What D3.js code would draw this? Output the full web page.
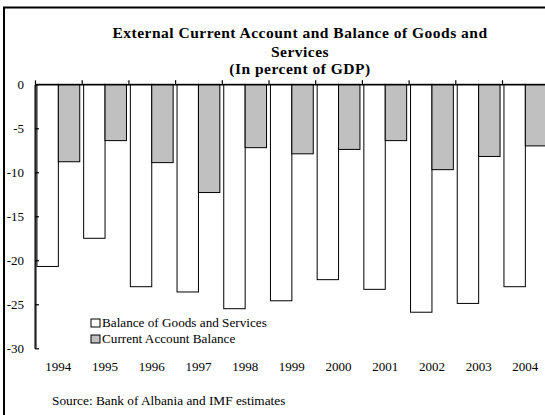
<!DOCTYPE html>
<html>
<head>
<meta charset="utf-8">
<script src="https://cdn.jsdelivr.net/npm/d3@7"></script>
<style>
  html, body { margin: 0; padding: 0; background: #fff; }
  svg { display: block; }
  text { font-family: "Liberation Serif", "Times New Roman", serif; fill: #000; }
</style>
</head>
<body>
<svg id="chart" width="545" height="415"></svg>
<script>
// Albania: external balances, percent of GDP
const years = ["1994", "1995", "1996", "1997", "1998", "1999", "2000", "2001", "2002", "2003", "2004"];
const goodsServices = [-20.7, -17.5, -23.0, -23.6, -25.5, -24.6, -22.2, -23.3, -25.9, -24.9, -23.0];
const currentAccount = [-8.8, -6.4, -8.9, -12.3, -7.2, -7.9, -7.4, -6.4, -9.7, -8.2, -7.0];
const yTicks = [0, -5, -10, -15, -20, -25, -30];
const seriesNames = ["Balance of Goods and Services", "Current Account Balance"];
const seriesFill = ["#ffffff", "#c0c0c0"];
const titleLines = ["External Current Account and Balance of Goods and", "Services", "(In percent of GDP)"];
const sourceNote = "Source: Bank of Albania and IMF estimates";

const svg = d3.select("#chart");

// outer frame (runs off the right and bottom of the page)
svg.append("rect")
  .attr("x", 4).attr("y", 7.5)
  .attr("width", 600).attr("height", 460)
  .attr("fill", "none").attr("stroke", "#000").attr("stroke-width", 2);

// title
const titleY = [37.5, 56.5, 73.5];
svg.append("g").selectAll("text").data(titleLines).join("text")
  .attr("x", 300).attr("y", (d, i) => titleY[i])
  .attr("text-anchor", "middle")
  .attr("font-weight", "bold")
  .attr("font-size", 15.5)
  .attr("letter-spacing", 0.5)
  .text(d => d);

// scales
const step = 46.7;
const left = 35;
const x = d3.scaleBand().domain(years)
  .range([left, left + years.length * step])
  .paddingInner(0.0835).paddingOuter(0.04175);
const xSub = d3.scaleBand().domain([0, 1]).range([0, x.bandwidth()]);
const y = d3.scaleLinear().domain([-30, 0]).range([348.3, 84.3]);
const edges = d3.scaleLinear().domain([0, years.length]).range([left, left + years.length * step]);

const rows = years.map((yr, i) => ({ year: yr, values: [goodsServices[i], currentAccount[i]] }));

// bars
const groups = svg.append("g").selectAll("g").data(rows).join("g")
  .attr("transform", d => `translate(${x(d.year)},0)`);
groups.selectAll("rect").data(d => d.values.map((v, k) => ({ v, k }))).join("rect")
  .attr("x", d => xSub(d.k))
  .attr("y", y(0))
  .attr("width", xSub.bandwidth())
  .attr("height", d => y(d.v) - y(0))
  .attr("fill", d => seriesFill[d.k])
  .attr("stroke", "#000")
  .attr("stroke-width", 1);

// zero line with category divider ticks
const xAxis = svg.append("g")
  .attr("transform", `translate(0,${y(0)})`)
  .call(d3.axisTop(edges).tickValues(d3.range(0, years.length + 1)).tickFormat("").tickSizeInner(4).tickSizeOuter(0));
xAxis.select(".domain").attr("stroke", "#000").attr("stroke-width", 1.5);
xAxis.selectAll(".tick line").attr("stroke", "#000").attr("stroke-width", 1.2);

// year labels
svg.append("g").selectAll("text").data(years).join("text")
  .attr("x", d => x(d) + x.bandwidth() / 2)
  .attr("y", 371)
  .attr("text-anchor", "middle")
  .attr("font-size", 13)
  .text(d => d);

// value axis (plain hyphen for negatives)
const yAxis = svg.append("g")
  .attr("transform", `translate(${left},0)`)
  .call(d3.axisLeft(y).tickValues(yTicks).tickSizeInner(-4).tickSizeOuter(0).tickPadding(11).tickFormat(d => String(d)));
yAxis.select(".domain").attr("stroke", "#222").attr("stroke-width", 2.2);
yAxis.selectAll(".tick line").attr("stroke", "#000").attr("stroke-width", 1.2);
yAxis.selectAll(".tick text")
  .attr("font-family", "Liberation Serif, Times New Roman, serif")
  .attr("font-size", 13).attr("fill", "#000").attr("dy", "0.3em");

// legend
const legend = svg.append("g").attr("transform", "translate(91,319)");
const item = legend.selectAll("g").data(seriesNames).join("g")
  .attr("transform", (d, i) => `translate(0,${i * 16})`);
item.append("rect")
  .attr("width", 9).attr("height", 8)
  .attr("fill", (d, i) => seriesFill[i])
  .attr("stroke", "#000").attr("stroke-width", 1);
item.append("text")
  .attr("x", 11).attr("y", 7.5)
  .attr("font-size", 13.2)
  .text(d => d);

// source note
svg.append("text")
  .attr("x", 52).attr("y", 404.5)
  .attr("font-size", 13.3)
  .text(sourceNote);
</script>
</body>
</html>
